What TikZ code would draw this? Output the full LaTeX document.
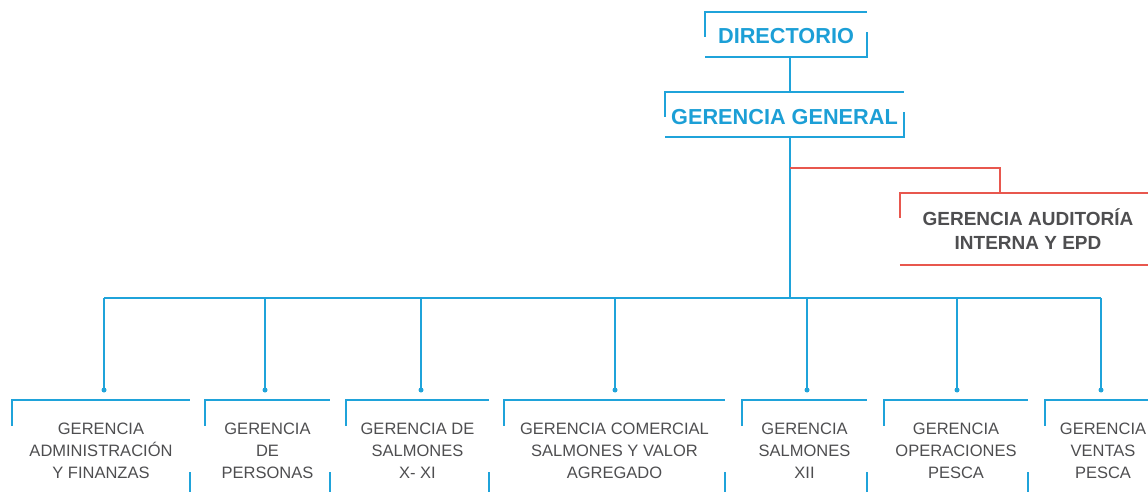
\documentclass[tikz,border=0pt]{standalone}
\usepackage{fontspec}
\setmainfont{Liberation Sans}
\definecolor{lblue}{HTML}{1FA3DA}
\definecolor{tblue}{HTML}{1C9FD6}
\definecolor{lred}{HTML}{E8574E}
\definecolor{tgray}{HTML}{4E4E50}
\tikzset{
  topbox/.style={inner sep=0pt, text=tblue, font=\bfseries\fontsize{21.7}{24}\selectfont},
  audbox/.style={inner sep=0pt, text=tgray, align=center, font=\bfseries\fontsize{19}{24}\selectfont},
  botbox/.style={inner sep=0pt, text=tgray, align=center, minimum height=102pt, font=\fontsize{16.5}{22}\selectfont},
  bl/.style={draw=lblue, line width=1.6pt},
  rl/.style={draw=lred, line width=1.6pt},
  dotmark/.style={circle, fill=lblue, inner sep=0pt, minimum size=5pt}
}
\begin{document}
\begin{tikzpicture}[x=1pt,y=-1pt]
\useasboundingbox (0,0) rectangle (1148,492);
\clip (0,0) rectangle (1148,492);
% top boxes
\node[topbox, minimum width=162pt, minimum height=45pt] (dir) at (786,34.5) {\raisebox{-2pt}[\height][\depth]{DIRECTORIO}};
\node[topbox, minimum width=239pt, minimum height=45pt] (gg) at (784.5,114.5) {\raisebox{-3pt}[\height][\depth]{GERENCIA GENERAL}};
\node[audbox, minimum width=256pt, minimum height=72pt] (aud) at (1028,229) {\raisebox{-4pt}[\height][\depth]{\begin{tabular}{@{}c@{}}GERENCIA AUDITORÍA\\INTERNA Y EPD\end{tabular}}};
% bottom boxes
\node[botbox, minimum width=178pt] (b1) at (101,451) {GERENCIA\\ADMINISTRACIÓN\\Y FINANZAS};
\node[botbox, minimum width=125pt] (b2) at (267.5,451) {GERENCIA\\DE\\PERSONAS};
\node[botbox, minimum width=143pt] (b3) at (417.5,451) {GERENCIA DE\\SALMONES\\X- XI};
\node[botbox, minimum width=221pt] (b4) at (614.5,451) {GERENCIA COMERCIAL\\SALMONES Y VALOR\\AGREGADO};
\node[botbox, minimum width=125pt] (b5) at (804.5,451) {GERENCIA\\SALMONES\\XII};
\node[botbox, minimum width=144pt] (b6) at (956,451) {GERENCIA\\OPERACIONES\\PESCA};
\node[botbox, minimum width=116pt] (b7) at (1103,451) {GERENCIA\\VENTAS\\PESCA};
% brackets of boxes
\foreach \n in {dir,gg}{
  \draw[bl] ([yshift=-25pt]\n.north west) -- (\n.north west) -- (\n.north east);
  \draw[bl] ([yshift=25pt]\n.south east) -- (\n.south east) -- (\n.south west);
}
\draw[rl] ([yshift=-25pt]aud.north west) -- (aud.north west) -- (aud.north east);
\draw[rl] (aud.south west) -- (aud.south east);
\foreach \n in {b1,b2,b3,b4,b5,b6,b7}{
  \draw[bl] ([yshift=-26pt]\n.north west) -- (\n.north west) -- (\n.north east);
  \draw[bl] ([yshift=30pt]\n.south east) -- (\n.south east);
}
% connectors
\coordinate (spine) at (790,0);
\coordinate (busL) at (104,298);
\coordinate (busR) at (1101,298);
\coordinate (rj) at (1000,168);
\draw[bl] (dir.south -| spine) -- (gg.north -| spine);
\draw[bl] (gg.south -| spine) -- (busL -| spine);
\draw[bl] (busL) -- (busR);
\draw[rl] (rj -| spine) -- (rj) -- (aud.north -| rj);
\foreach \n/\x in {1/104,2/265,3/421,4/615,5/807,6/957,7/1101}{
  \coordinate (t\n) at (\x,298);
  \coordinate (d\n) at (\x,390);
  \draw[bl] (t\n) -- (d\n);
  \node[dotmark] (dot\n) at (d\n) {};
}
\end{tikzpicture}
\end{document}
